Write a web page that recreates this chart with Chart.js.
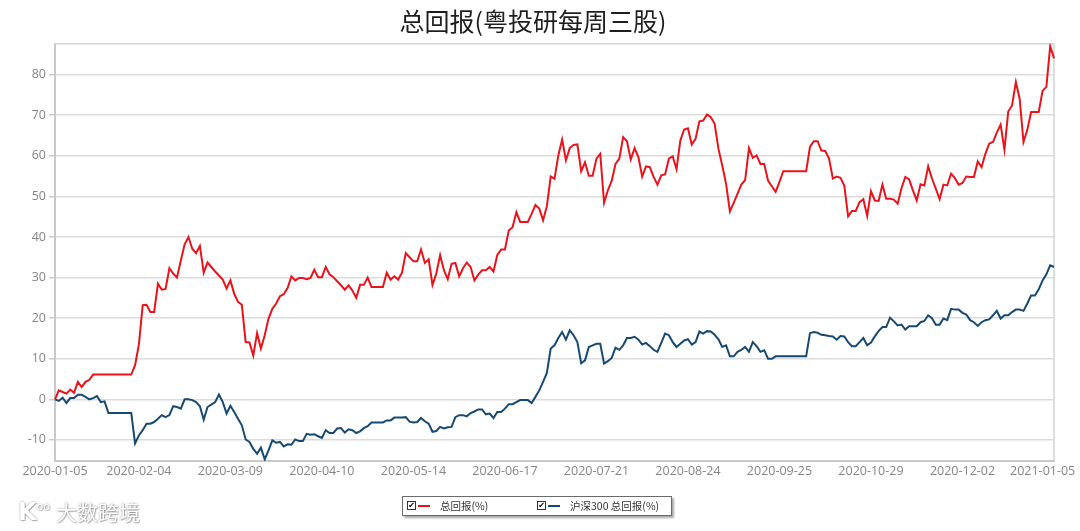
<!DOCTYPE html>
<html>
<head>
<meta charset="utf-8">
<script src="https://cdn.jsdelivr.net/npm/chart.js@4.4.1/dist/chart.umd.min.js"></script>
<style>
  html, body { margin: 0; padding: 0; background: #ffffff; }
  #wrap { position: relative; width: 1080px; height: 531px; overflow: hidden; }
  #chart { position: absolute; left: 0; top: 0; }
  #legend {
    position: absolute; left: 402px; top: 496px; width: 268px; height: 18px;
    border: 1px solid #6a6a6a; background: #fff;
    box-shadow: 2px 2px 2px rgba(0,0,0,0.35);
    font: 10.5px "Noto Sans CJK SC", "Noto Sans", sans-serif; color: #333;
  }
  .item { position: absolute; top: 0; height: 18px; line-height: 18px; white-space: nowrap; }
  .cb { position: absolute; top: 4px; width: 7px; height: 7px; border: 1px solid #333; background: #fff;
        font: bold 8px "DejaVu Sans", sans-serif; line-height: 7px; text-align: center; color: #000; }
  .sw { position: absolute; top: 8px; width: 12px; height: 2px; }
  .tx { position: absolute; top: 0; }
  #wm { position: absolute; left: 18px; top: 496px; color: #ffffff;
        text-shadow: 0 0 2px rgba(0,0,0,0.45), 1px 1px 1px rgba(0,0,0,0.25);
        font: 21px "Noto Sans CJK SC", sans-serif; white-space: nowrap; }
  #wm .k { font: bold 24px "DejaVu Sans", sans-serif; }
  #wm sup { font: 11px "DejaVu Sans", sans-serif; vertical-align: 10px; margin-right: 6px; }
</style>
</head>
<body>
<div id="wrap">
  <canvas id="chart" width="1080" height="531"></canvas>
  <div id="legend"></div>
  <div id="wm"><span class="k">K</span><sup>oo</sup>大数跨境</div>
</div>
<script>
// ---------------- data ----------------
const chartTitle = '总回报(粤投研每周三股)';
const seriesNames = ['总回报(%)', '沪深300 总回报(%)'];
const seriesColors = ['#e8141c', '#164a72'];
const startDate = '2020-01-05';
const endDate = '2021-01-05';
const tickLabels = ['2020-01-05','2020-02-04','2020-03-09','2020-04-10','2020-05-14','2020-06-17',
                    '2020-07-21','2020-08-24','2020-09-25','2020-10-29','2020-12-02','2021-01-05'];
const yTicks = [-10, 0, 10, 20, 30, 40, 50, 60, 70, 80];
const yMin = -15.2, yMax = 87.6;

const totalReturn = [
  0, 2.2, 1.8, 1.4, 2.4, 1.6, 4.3, 3.0, 4.3, 4.8,
  6.1, 6.1, 6.1, 6.1, 6.1, 6.1, 6.1, 6.1, 6.1, 6.1,
  6.1, 8.4, 13.5, 23.2, 23.3, 21.5, 21.5, 28.5, 27, 27.2,
  32.3, 31, 30, 34.2, 38.2, 40, 37.1, 36, 37.8, 31.2,
  33.7, 32.6, 31.5, 30.5, 29.5, 27.3, 29.3, 26, 24, 23.3,
  14.1, 14, 10.8, 16.3, 12.5, 15.8, 19.9, 22.3, 23.6, 25.4,
  25.9, 27.4, 30.3, 29.3, 29.9, 29.9, 29.6, 29.9, 31.9, 30.1,
  30.1, 32.6, 30.8, 30.1, 29.1, 28.1, 27, 28.1, 26.8, 25,
  28.2, 28.2, 30, 27.7, 27.7, 27.7, 27.7, 31.2, 29.5, 30.3,
  29.5, 31.2, 36, 35, 34, 34, 36.9, 33.6, 34.5, 28.2,
  31, 35.5, 31.8, 29.6, 33.4, 33.6, 30.3, 32.3, 33.7, 32.6,
  29.3, 30.7, 31.8, 31.8, 32.6, 31.5, 35.6, 36.9, 36.9, 41.6,
  42.4, 46.1, 43.7, 43.7, 43.7, 45.7, 47.9, 47, 44.1, 47.6,
  54.9, 54.3, 60.1, 64, 58.9, 61.9, 62.7, 62.8, 56.2, 58.4,
  55.1, 55.1, 59.3, 60.5, 48.4, 51.5, 53.8, 58, 59.3, 64.6,
  63.6, 59.1, 61.9, 59.7, 54.9, 57.4, 57.2, 54.8, 52.9, 55.2,
  55.4, 59.3, 59.9, 56.7, 63.8, 66.5, 66.8, 62.8, 64.2, 68.5,
  68.7, 70.2, 69.5, 67.9, 61.7, 57.6, 53.1, 46.3, 48.4, 50.7,
  52.9, 54, 61.9, 59.5, 60.1, 58, 58, 53.9, 52.5, 51.1,
  53.6, 56.2, 56.2, 56.2, 56.2, 56.2, 56.2, 56.2, 62.2, 63.6,
  63.6, 61.3, 61.2, 59.3, 54.4, 54.9, 54.6, 52.7, 45.1, 46.4,
  46.4, 48.6, 49.3, 45.2, 51.3, 49, 48.9, 52.9, 49.4, 49.4,
  49.2, 48.2, 52, 54.8, 54.2, 51.5, 49, 53, 52.7, 57.4,
  54.4, 51.9, 49.3, 52.9, 52.7, 55.6, 54.5, 52.9, 53.3, 54.9,
  54.8, 54.8, 58.6, 57.2, 60.5, 63, 63.4, 65.7, 67.7, 61.5,
  70.9, 72.4, 78.2, 74, 63.4, 66.4, 70.8, 70.8, 70.8, 76,
  77, 87, 84
];

const hs300Return = [
  0, -0.4, 0.4, -0.9, 0.3, 0.3, 1.1, 1.1, 0.6, 0,
  0.3, 0.8, -0.7, -0.5, -3.4, -3.4, -3.4, -3.4, -3.4, -3.4,
  -3.4, -10.9, -8.9, -7.6, -6, -6, -5.6, -4.8, -3.9, -4.4,
  -3.9, -1.7, -1.9, -2.3, 0, 0, -0.2, -0.7, -1.7, -5,
  -1.9, -1.3, -0.7, 1.2, -0.7, -3.5, -1.6, -3.1, -4.8, -6.4,
  -9.9, -10.5, -12.2, -13.4, -11.9, -14.8, -12.6, -10.1, -10.7, -10.5,
  -11.6, -11.1, -11.2, -9.9, -10.3, -10.3, -8.5, -8.7, -8.6, -9.1,
  -9.5, -7.6, -8.3, -8.3, -7.2, -7.1, -8.2, -7.4, -7.6, -8.3,
  -7.9, -7.1, -6.6, -5.7, -5.7, -5.7, -5.7, -5.2, -5.2, -4.5,
  -4.5, -4.5, -4.4, -5.5, -5.7, -5.6, -4.6, -5.4, -6, -8,
  -7.8, -6.8, -7.2, -6.9, -6.8, -4.4, -3.9, -3.9, -4.2, -3.4,
  -3, -2.5, -2.5, -3.7, -3.5, -4.6, -3.1, -3.1, -2.3, -1.2,
  -1.2, -0.7, -0.2, -0.2, -0.2, -0.9, 0.6, 2.2, 4.3, 6.5,
  12.5, 13.3, 15.1, 16.6, 14.7, 17, 15.8, 14.1, 8.9, 9.6,
  12.9, 13.3, 13.7, 13.7, 8.8, 9.4, 10.2, 12.7, 12.2, 13.3,
  15.1, 15.1, 15.4, 14.7, 13.5, 13.9, 13.1, 12.2, 11.7, 13.9,
  16.2, 15.8, 14.1, 12.9, 13.7, 14.5, 14.8, 13.5, 14.1, 16.7,
  16.2, 16.8, 16.7, 15.9, 14.8, 12.9, 13.3, 10.6, 10.6, 11.7,
  12.2, 12.9, 11.7, 14.1, 13.1, 11.7, 12.1, 10, 10, 10.6,
  10.6, 10.6, 10.6, 10.6, 10.6, 10.6, 10.6, 10.6, 16.3, 16.6,
  16.4, 15.9, 15.8, 15.6, 15.5, 14.7, 15.6, 15.5, 14.1, 13.1,
  13.1, 14.1, 15.1, 13.3, 14, 15.5, 16.8, 17.8, 17.8, 20.1,
  19.2, 18.2, 18.4, 17.2, 18, 18, 18, 19, 19.3, 20.7,
  20, 18.4, 18.4, 19.9, 19.5, 22.3, 22.1, 22.1, 21.3, 20.9,
  19.5, 19, 18.1, 19, 19.5, 19.7, 20.7, 21.8, 19.9, 20.7,
  20.7, 21.5, 22.1, 22.1, 21.8, 23.6, 25.6, 25.6, 27.1, 29.3,
  30.8, 33, 32.6
];

// categories: trading calendar (weekdays) from start to end
function buildCategories(start, end) {
  const out = [start];
  const [sy, sm, sd] = start.split('-').map(Number);
  const [ey, em, ed] = end.split('-').map(Number);
  let t = Date.UTC(sy, sm - 1, sd);
  const tEnd = Date.UTC(ey, em - 1, ed);
  while (t < tEnd) {
    t += 86400000;
    const d = new Date(t);
    const wd = d.getUTCDay();
    if (wd === 0 || wd === 6) continue;
    const s = d.getUTCFullYear() + '-' + String(d.getUTCMonth() + 1).padStart(2, '0') + '-' + String(d.getUTCDate()).padStart(2, '0');
    out.push(s);
  }
  return out;
}
const categories = buildCategories(startDate, endDate);

// ---------------- chart ----------------
const frame = {
  id: 'frame',
  beforeDatasetsDraw(chart) {
    const a = chart.chartArea, ctx = chart.ctx;
    ctx.save();
    ctx.strokeStyle = '#d4d4d4';
    ctx.lineWidth = 1.5;
    ctx.beginPath();
    ctx.moveTo(a.left, a.top);
    ctx.lineTo(a.right, a.top);
    ctx.lineTo(a.right, a.bottom);
    ctx.stroke();
    ctx.restore();
  }
};

const tickFont = { family: '"Open Sans", "Liberation Sans", sans-serif', size: 12.5 };

new Chart(document.getElementById('chart'), {
  type: 'line',
  data: {
    labels: categories,
    datasets: [
      { label: seriesNames[0], data: totalReturn, borderColor: seriesColors[0], backgroundColor: seriesColors[0],
        borderWidth: 2, pointRadius: 0, tension: 0, fill: false },
      { label: seriesNames[1], data: hs300Return, borderColor: seriesColors[1], backgroundColor: seriesColors[1],
        borderWidth: 2, pointRadius: 0, tension: 0, fill: false }
    ]
  },
  options: {
    responsive: false,
    animation: false,
    devicePixelRatio: 1,
    layout: { padding: { left: 12, right: 26, top: 0, bottom: 0 } },
    plugins: {
      legend: { display: false },
      tooltip: { enabled: false },
      title: {
        display: true, text: chartTitle, color: '#1e1e1e',
        font: { family: '"Noto Sans CJK SC", sans-serif', size: 25, weight: 'normal' },
        padding: { top: 6, bottom: 7.8 }
      }
    },
    scales: {
      x: {
        type: 'category',
        offset: false,
        grid: { display: false, drawTicks: false },
        border: { display: true, color: '#c9c9c9', width: 2 },
        ticks: {
          autoSkip: false, maxRotation: 0, minRotation: 0, padding: 3,
          color: '#858585', font: tickFont,
          callback: function (val) {
            const lab = this.getLabelForValue(val);
            if (!tickLabels.includes(lab)) return '';
            if (lab === tickLabels[tickLabels.length - 1]) return lab + '\u00a0'.repeat(7);
            return lab;
          }
        },
        afterFit(scale) { scale.height = 70; scale.paddingLeft = 0; scale.paddingRight = 0; }
      },
      y: {
        min: yMin, max: yMax,
        grid: { color: '#dcdcdc', lineWidth: 1.5, tickLength: 6, tickColor: '#c9c9c9', drawTicks: true },
        border: { display: true, color: '#c9c9c9', width: 2 },
        ticks: { color: '#858585', font: tickFont, padding: 3 },
        afterBuildTicks(scale) { scale.ticks = yTicks.map(v => ({ value: v })); },
        afterFit(scale) { scale.width = 43; }
      }
    }
  },
  plugins: [frame]
});

// ---------------- legend (HTML) ----------------
const legend = document.getElementById('legend');
const itemX = [4, 134];
seriesNames.forEach((name, i) => {
  const it = document.createElement('div');
  it.className = 'item';
  it.style.left = itemX[i] + 'px';
  it.innerHTML = '<span class="cb">\u2714</span><span class="sw"></span><span class="tx"></span>';
  it.querySelector('.cb').style.left = '0px';
  const sw = it.querySelector('.sw');
  sw.style.left = '11px';
  sw.style.background = seriesColors[i];
  const tx = it.querySelector('.tx');
  tx.style.left = '33px';
  tx.textContent = name;
  legend.appendChild(it);
});
</script>
</body>
</html>
